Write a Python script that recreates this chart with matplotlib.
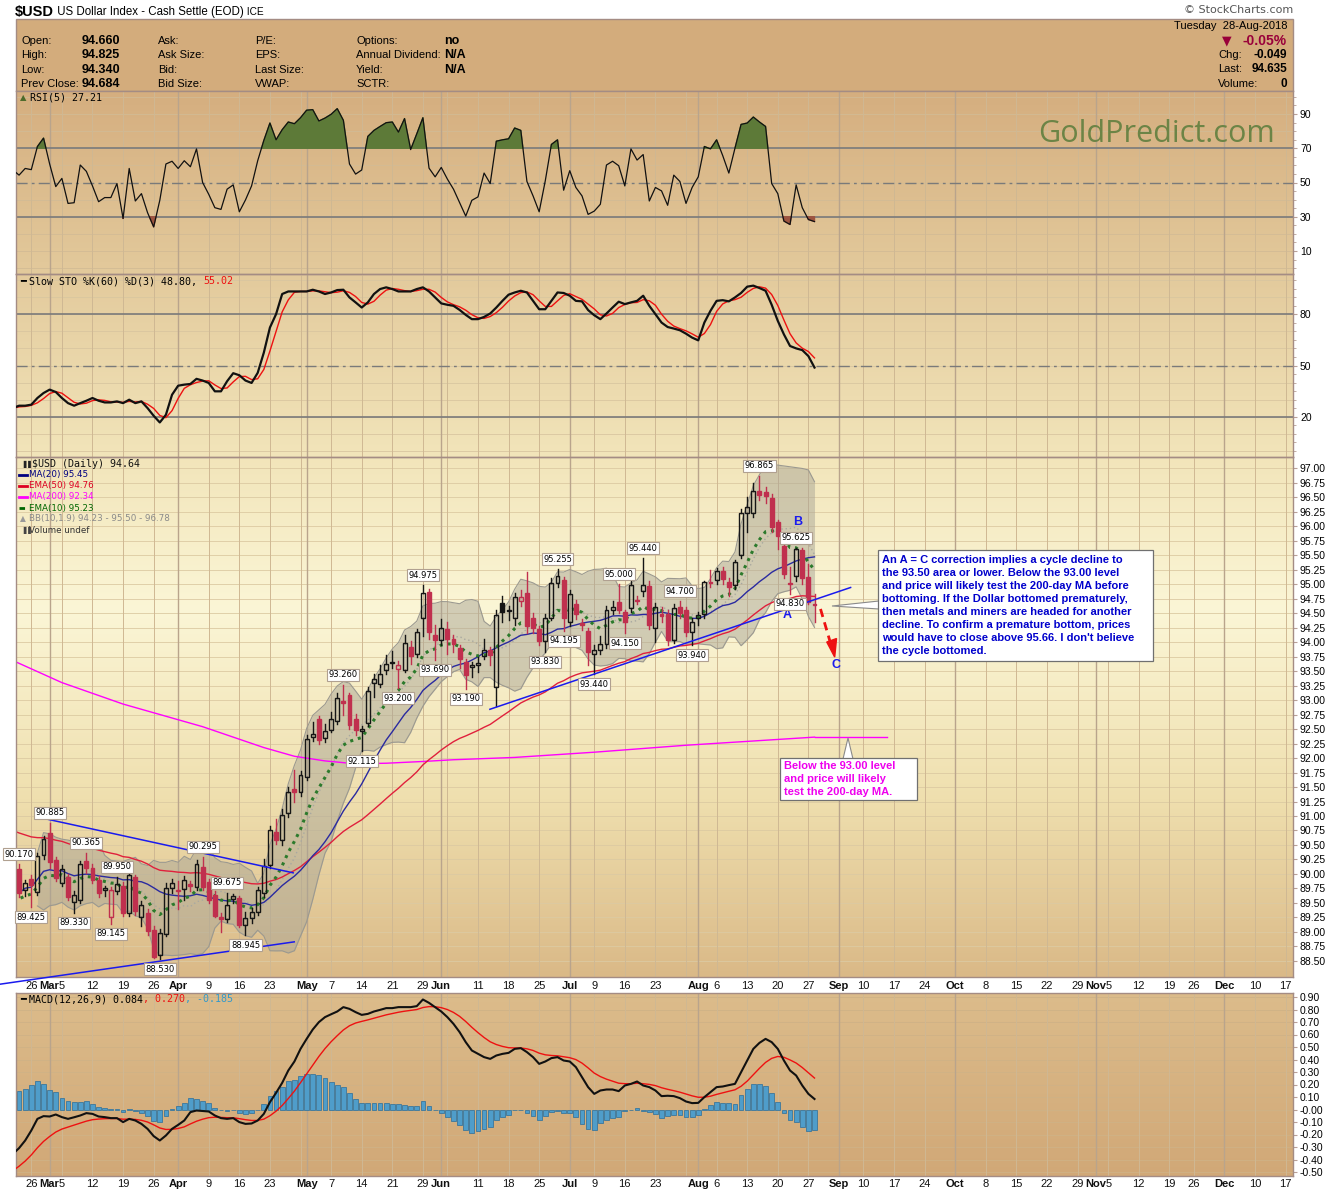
import numpy as np
import pandas as pd
import matplotlib
matplotlib.use('Agg')
import matplotlib.pyplot as plt
from matplotlib.patches import Rectangle, Polygon
from matplotlib.colors import to_rgb
import matplotlib.transforms as mtransforms

plt.rcParams['font.family'] = ['Liberation Sans', 'DejaVu Sans']

# ---------------- data ----------------
holidays = ['2018-03-30', '2018-05-28', '2018-07-04', '2018-09-03', '2018-11-22', '2018-12-25']
first_day = '2018-02-21'
last_day = '2018-12-31'

# daily OHLC, 22-Feb-2018 .. 28-Aug-2018
open_ = [90.08, 89.73, 89.91, 89.69, 90.33, 90.70, 90.24, 89.85, 89.94, 89.51,
         89.55, 90.23, 90.10, 89.90, 89.72, 89.26, 89.71, 89.79, 89.33, 89.95,
         89.26, 89.33, 89.03, 88.60, 88.97, 89.75, 89.73, 89.74, 89.82, 89.77,
         90.12, 89.87, 89.64, 89.26, 89.22, 89.57, 89.58, 89.12, 89.24, 89.35,
         89.67, 90.16, 90.73, 90.59, 91.05, 91.46, 91.41, 91.68, 92.37, 92.67,
         92.34, 92.49, 92.63, 92.98, 93.09, 92.68, 92.46, 92.60, 93.30, 93.28,
         93.52, 93.65, 93.53, 93.52, 93.91, 93.80, 94.41, 94.86, 94.12, 94.03,
         94.22, 94.05, 93.89, 93.66, 93.57, 93.60, 93.76, 93.86, 93.23, 94.67,
         94.55, 94.41, 94.70, 94.85, 94.41, 94.22, 94.01, 94.42, 95.01, 95.07,
         94.35, 94.65, 94.32, 94.19, 93.80, 93.87, 93.96, 94.55, 94.69, 94.52,
         94.59, 94.73, 94.88, 94.97, 94.25, 94.49, 94.48, 94.03, 94.61, 94.55,
         94.18, 94.41, 94.48, 95.04, 95.07, 95.22, 95.04, 94.99, 95.50, 96.22,
         96.22, 96.60, 96.59, 96.49, 96.07, 95.66, 95.02, 95.13, 95.59, 95.12,
         94.660]
high_ = [90.17, 89.90, 89.98, 90.36, 90.66, 90.885, 90.30, 90.16, 90.00, 89.70,
         90.22, 90.365, 90.18, 89.97, 89.80, 89.78, 89.95, 89.86, 90.02, 89.99,
         89.53, 89.40, 89.10, 89.05, 89.84, 89.92, 89.88, 89.97, 89.88, 90.24,
         90.295, 89.92, 89.70, 89.32, 89.675, 89.66, 89.62, 89.35, 89.42, 89.78,
         90.25, 90.82, 90.95, 91.12, 91.50, 91.80, 91.78, 92.40, 92.62, 92.72,
         92.58, 92.80, 93.12, 93.26, 93.12, 92.76, 92.56, 93.22, 93.45, 93.60,
         93.78, 93.85, 93.68, 94.12, 94.02, 94.22, 94.975, 94.92, 94.30, 94.40,
         94.35, 94.12, 93.95, 93.70, 93.66, 93.75, 94.05, 93.92, 94.55, 94.80,
         94.62, 94.85, 94.90, 95.20, 94.50, 94.28, 94.48, 95.10, 95.255, 95.12,
         94.90, 94.72, 94.40, 94.25, 93.95, 94.10, 94.62, 94.70, 95.00, 94.56,
         95.05, 94.80, 95.44, 95.05, 94.68, 94.60, 94.55, 94.65, 94.70, 94.60,
         94.42, 94.52, 95.05, 95.24, 95.27, 95.30, 95.10, 95.42, 96.30, 96.50,
         96.75, 96.865, 96.68, 96.55, 96.10, 95.70, 95.30, 95.625, 95.62, 95.35,
         94.825]
low_ = [89.60, 89.62, 89.425, 89.64, 90.25, 90.10, 89.88, 89.80, 89.55, 89.33,
        89.50, 90.02, 89.85, 89.60, 89.62, 89.145, 89.65, 89.28, 89.28, 89.30,
        89.10, 88.95, 88.55, 88.53, 88.93, 89.68, 89.40, 89.55, 89.70, 89.72,
        89.72, 89.50, 89.25, 89.00, 89.18, 89.50, 89.08, 88.945, 89.15, 89.30,
        89.60, 90.10, 90.52, 90.50, 90.98, 91.25, 91.35, 91.62, 92.30, 92.25,
        92.28, 92.44, 92.58, 92.75, 92.50, 92.40, 92.115, 92.55, 93.05, 93.22,
        93.45, 93.55, 93.20, 93.48, 93.62, 93.75, 94.10, 94.05, 93.69, 93.95,
        93.80, 93.82, 93.55, 93.19, 93.40, 93.48, 93.70, 93.60, 92.89, 94.35,
        94.38, 94.30, 94.62, 94.15, 94.15, 93.95, 93.83, 94.38, 94.95, 94.195,
        94.28, 94.40, 94.20, 93.60, 93.44, 93.80, 93.90, 94.48, 94.50, 94.15,
        94.52, 94.65, 94.80, 94.22, 94.00, 94.35, 93.95, 93.98, 94.42, 94.10,
        93.94, 94.30, 94.42, 94.95, 95.00, 95.00, 94.80, 94.92, 95.45, 95.90,
        96.15, 96.45, 96.40, 95.90, 95.60, 95.10, 94.83, 95.05, 95.00, 94.65,
        94.340]
close_ = [89.67, 89.84, 89.81, 90.31, 90.60, 90.21, 89.93, 90.08, 89.61, 89.63,
          90.18, 90.10, 89.90, 89.67, 89.76, 89.72, 89.82, 89.33, 89.98, 89.37,
          89.47, 89.01, 88.57, 88.98, 89.76, 89.84, 89.70, 89.90, 89.79, 90.18,
          89.77, 89.55, 89.28, 89.23, 89.47, 89.62, 89.12, 89.24, 89.35, 89.72,
          90.13, 90.76, 90.59, 91.02, 91.42, 91.41, 91.71, 92.32, 92.41, 92.31,
          92.47, 92.67, 93.03, 92.95, 92.57, 92.48, 92.50, 93.16, 93.36, 93.44,
          93.62, 93.64, 93.60, 93.98, 93.76, 94.18, 94.84, 94.18, 94.03, 94.24,
          94.05, 93.97, 93.71, 93.43, 93.60, 93.63, 93.87, 93.78, 94.47, 94.52,
          94.53, 94.78, 94.77, 94.28, 94.24, 94.01, 94.42, 95.01, 95.14, 94.41,
          94.82, 94.48, 94.30, 93.82, 93.86, 93.96, 94.55, 94.61, 94.55, 94.35,
          94.99, 94.71, 94.99, 94.29, 94.61, 94.44, 94.03, 94.59, 94.50, 94.18,
          94.35, 94.47, 95.03, 95.01, 95.22, 95.09, 94.94, 95.38, 96.22, 96.33,
          96.60, 96.53, 96.52, 95.99, 95.82, 95.18, 95.00, 95.60, 95.11, 94.684,
          94.635]

# indicator readings, 21-Feb-2018 .. 28-Aug-2018
rsi5 = [57.3, 54.3, 58.2, 57.5, 71.0, 75.9, 60.8, 47.6, 52.4, 37.8,
        38.2, 60.2, 56.5, 48.0, 38.8, 41.2, 41.2, 49.4, 29.0, 58.2,
        39.2, 43.5, 32.4, 24.1, 39.6, 60.8, 62.4, 58.2, 62.7, 59.2,
        69.6, 50.0, 43.1, 35.3, 34.3, 46.1, 48.6, 32.9, 39.8, 48.0,
        62.7, 74.5, 84.7, 74.9, 80.8, 85.3, 84.3, 87.8, 92.2, 92.5,
        85.9, 87.6, 89.8, 93.1, 86.3, 60.8, 54.9, 57.3, 76.9, 80.4,
        82.7, 84.9, 85.3, 79.4, 87.3, 69.2, 78.4, 87.8, 58.4, 53.3,
        58.8, 52.0, 46.1, 38.2, 30.4, 39.6, 41.6, 55.5, 49.4, 74.1,
        74.9, 75.5, 81.8, 80.4, 50.6, 42.2, 32.9, 51.0, 72.2, 74.9,
        45.5, 56.9, 47.1, 42.2, 31.4, 33.3, 37.3, 60.2, 62.4, 59.8,
        48.0, 69.6, 63.1, 66.3, 39.2, 47.1, 45.1, 36.7, 54.3, 50.6,
        37.8, 47.1, 53.3, 71.0, 69.6, 74.9, 65.7, 55.5, 70.0, 83.9,
        84.7, 88.2, 85.3, 82.7, 49.4, 43.5, 27.5, 25.5, 48.6, 35.3,
        28.4, 27.21]
sto_k = [25.1, 26.5, 26.5, 27.1, 31.0, 33.9, 35.9, 34.5, 31.0, 28.0,
         26.5, 28.0, 29.4, 31.0, 29.4, 28.4, 28.4, 29.0, 28.0, 30.0,
         28.0, 29.0, 25.1, 20.6, 16.7, 21.2, 32.9, 38.2, 38.8, 39.2,
         42.2, 41.2, 39.8, 34.9, 34.9, 40.8, 45.5, 44.3, 41.2, 39.8,
         45.7, 57.5, 72.2, 80.0, 91.8, 93.3, 93.3, 93.3, 93.3, 94.3,
         93.3, 91.8, 92.7, 94.1, 94.3, 89.8, 86.9, 83.9, 86.9, 91.8,
         94.7, 95.7, 94.7, 93.3, 93.3, 93.3, 94.7, 95.7, 93.3, 89.8,
         86.3, 85.5, 84.9, 82.5, 79.6, 77.1, 77.1, 78.4, 80.4, 83.9,
         87.8, 91.4, 92.7, 93.7, 92.7, 87.8, 82.9, 82.9, 87.8, 92.7,
         92.4, 90.8, 87.8, 87.5, 82.4, 79.4, 77.1, 80.4, 83.9, 87.3,
         85.9, 86.9, 87.8, 90.8, 84.9, 80.0, 75.1, 72.5, 71.6, 70.6,
         68.6, 66.3, 64.7, 75.1, 82.0, 87.8, 88.2, 87.5, 89.8, 92.4,
         96.1, 96.7, 95.3, 93.7, 85.5, 76.1, 68.2, 61.4, 60.0, 59.0,
         55.5, 48.80]
macd_line = [-0.355, -0.309, -0.248, -0.168, -0.075, -0.053, -0.056, -0.040, -0.061, -0.075,
             -0.062, -0.048, -0.029, -0.035, -0.056, -0.061, -0.069, -0.069, -0.101, -0.075,
             -0.088, -0.115, -0.155, -0.213, -0.248, -0.208, -0.155, -0.123, -0.088, -0.021,
             -0.008, -0.012, -0.016, -0.048, -0.069, -0.075, -0.069, -0.101, -0.115, -0.112,
             -0.088, -0.035, 0.059, 0.133, 0.213, 0.312, 0.384, 0.485, 0.565, 0.640,
             0.699, 0.739, 0.762, 0.784, 0.819, 0.805, 0.779, 0.757, 0.765, 0.784,
             0.797, 0.811, 0.811, 0.819, 0.819, 0.819, 0.827, 0.880, 0.853, 0.819,
             0.784, 0.739, 0.685, 0.619, 0.539, 0.472, 0.445, 0.419, 0.405, 0.432,
             0.445, 0.453, 0.485, 0.491, 0.459, 0.419, 0.365, 0.384, 0.411, 0.419,
             0.392, 0.384, 0.339, 0.259, 0.179, 0.125, 0.152, 0.160, 0.160, 0.147,
             0.192, 0.205, 0.224, 0.192, 0.179, 0.152, 0.107, 0.110, 0.107, 0.091,
             0.064, 0.051, 0.053, 0.099, 0.139, 0.179, 0.184, 0.195, 0.205, 0.299,
             0.392, 0.485, 0.533, 0.565, 0.539, 0.485, 0.392, 0.312, 0.272, 0.192,
             0.125, 0.084]
macd_signal_start = -0.49
ema10_start = 89.55
ema50_start = 90.75

ma200_dates = ['2018-02-21', '2018-03-05', '2018-03-19', '2018-04-06', '2018-04-20', '2018-04-27',
               '2018-05-04', '2018-05-11', '2018-05-18', '2018-05-29', '2018-06-05', '2018-06-19',
               '2018-07-09', '2018-07-30', '2018-08-28']
ma200_vals = [93.68, 93.30, 92.93, 92.54, 92.18, 92.03, 91.95, 91.90, 91.91, 91.94, 91.97, 92.01,
              92.10, 92.22, 92.36]

high_label_days = [0, 5, 11, 16, 30, 34, 53, 66, 88, 98, 102, 108, 121, 127]
low_label_days = [2, 9, 15, 23, 37, 56, 62, 68, 73, 86, 89, 94, 99, 110, 126]

label_dates = ['2018-02-26', '2018-03-01', '2018-03-05', '2018-03-12', '2018-03-19', '2018-03-26',
               '2018-04-02', '2018-04-09', '2018-04-16', '2018-04-23', '2018-05-01', '2018-05-07',
               '2018-05-14', '2018-05-21', '2018-05-29', '2018-06-01', '2018-06-11', '2018-06-18',
               '2018-06-25', '2018-07-02', '2018-07-09', '2018-07-16', '2018-07-23', '2018-08-01',
               '2018-08-06', '2018-08-13', '2018-08-20', '2018-08-27', '2018-09-04', '2018-09-10',
               '2018-09-17', '2018-09-24', '2018-10-01', '2018-10-08', '2018-10-15', '2018-10-22',
               '2018-10-29', '2018-11-01', '2018-11-05', '2018-11-12', '2018-11-19', '2018-11-26',
               '2018-12-03', '2018-12-10', '2018-12-17']
label_texts = ['26', 'Mar', '5', '12', '19', '26', 'Apr', '9', '16', '23', 'May', '7', '14', '21', '29',
               'Jun', '11', '18', '25', 'Jul', '9', '16', '23', 'Aug', '6', '13', '20', '27', 'Sep',
               '10', '17', '24', 'Oct', '8', '15', '22', '29', 'Nov', '5', '12', '19', '26', 'Dec',
               '10', '17']
label_bold = [t.isalpha() for t in label_texts]

note_text = ["An A = C correction implies a cycle decline to",
             "the 93.50 area or lower. Below the 93.00 level",
             "and price will likely test the 200-day MA before",
             "bottoming. If the Dollar bottomed prematurely,",
             "then metals and miners are headed for another",
             "decline. To confirm a premature bottom, prices",
             "would have to close above 95.66. I don't believe",
             "the cycle bottomed."]
note2_text = ["Below the 93.00 level", "and price will likely", "test the 200-day MA."]

# ---------------- helpers ----------------
W, H = 1340, 1192
fig = plt.figure(figsize=(W / 100, H / 100), dpi=100)
fig.patch.set_facecolor('white')
rend = fig.canvas.get_renderer()

days = pd.bdate_range(first_day, last_day)
days = days[~days.isin(pd.to_datetime(holidays))]
idx = {d.strftime('%Y-%m-%d'): i for i, d in enumerate(days)}

L, R = 16, 1293
X0 = 0.5
X1 = 209.2
SP = '#a48c84'
RED = '#c0304e'
BLK = '#151515'
DV = 'DejaVu Sans'
MONO = 'DejaVu Sans Mono'


def T(x, y, s, **kw):
    kw.setdefault('va', 'center')
    return fig.text(x / W, 1 - y / H, s, **kw)


def seq(x, y, parts):
    for s, kw in parts:
        t = T(x, y, s, ha='left', **kw)
        x += t.get_window_extent(rend).width


def add_ax(top, bottom):
    return fig.add_axes([L / W, 1 - bottom / H, (R - L) / W, (bottom - top) / H])


def grad_bg(top, bottom, stops):
    bg = fig.add_axes([L / W, 1 - bottom / H, (R - L) / W, (bottom - top) / H], zorder=-5)
    bg.axis('off')
    ys = np.linspace(top, bottom, 400)
    cols = np.array([to_rgb(c) for _, c in stops])
    py = [p for p, _ in stops]
    img = np.stack([np.interp(ys, py, cols[:, k]) for k in range(3)], axis=1)
    bg.imshow(img[:, None, :], aspect='auto', extent=(0, 1, 0, 1))
    bg.set_xlim(0, 1)
    bg.set_ylim(0, 1)


# backgrounds
grad_bg(91, 977, [(91, '#d5ae7f'), (274, '#e3ca9c'), (457, '#f2e5ba'), (610, '#fbf6d6'),
                  (800, '#efdfae'), (977, '#dab987')])
grad_bg(993, 1176, [(993, '#dcbc8b'), (1176, '#d1a877')])

# header box
fig.add_artist(Rectangle((L / W, 1 - 91 / H), (R - L) / W, (91 - 19) / H, transform=fig.transFigure,
                         facecolor='#d3ac7c', edgecolor=SP, lw=1, zorder=-6))

ax_rsi = add_ax(91, 274)
ax_sto = add_ax(274, 457)
ax_p = add_ax(457, 977)
ax_m = add_ax(993, 1176)
axes = [ax_rsi, ax_sto, ax_p, ax_m]

label_x = [idx[d] for d in label_dates]
week_starts = [i for i in range(1, len(days)) if days[i].isocalendar()[1] != days[i - 1].isocalendar()[1]]
month_starts = [i for i in range(1, len(days)) if days[i].month != days[i - 1].month]

for ax in axes:
    ax.set_facecolor('none')
    ax.set_xlim(X0, X1)
    for s in ax.spines.values():
        s.set_color(SP)
        s.set_linewidth(1)
    ax.set_xticks([])
    ax.yaxis.tick_right()
    ax.tick_params(axis='y', which='both', length=3, color='#b8a098', labelsize=7.5, pad=2)
    for i in week_starts:
        ax.axvline(i, color='#cfb893', lw=0.7, zorder=0.5)
    for i in month_starts:
        ax.axvline(i, color='#b9a48c', lw=1.0, zorder=0.6)

# ---------------- RSI ----------------
x_ind = np.arange(len(rsi5))
rsi = np.array(rsi5)
ax_rsi.set_ylim(-3.4, 103.4)
for v in range(0, 101, 10):
    ax_rsi.axhline(v, color='#d2bb95', lw=0.6, zorder=0.4)
ax_rsi.axhline(70, color='#7a7a7a', lw=1.2, zorder=1)
ax_rsi.axhline(30, color='#7a7a7a', lw=1.2, zorder=1)
ax_rsi.axhline(50, color='#7a7a7a', lw=1.0, ls=(0, (8, 3, 2, 3)), zorder=1)
ax_rsi.fill_between(x_ind, 70, rsi, where=rsi >= 70, interpolate=True, color='#5d7a38', zorder=2)
ax_rsi.fill_between(x_ind, 30, rsi, where=rsi <= 30, interpolate=True, color='#9d5440', zorder=2)
ax_rsi.plot(x_ind, rsi, color='#111111', lw=0.9, zorder=3)
ax_rsi.set_yticks([10, 30, 50, 70, 90])
ax_rsi.set_yticklabels(['10', '30', '50', '70', '90'])
ax_rsi.set_yticks(np.arange(0, 101, 5), minor=True)
ax_rsi.tick_params(axis='y', which='minor', length=2, labelright=False)

# ---------------- STO ----------------
k = pd.Series(sto_k)
d_line = k.rolling(3, min_periods=1).mean()
ax_sto.set_ylim(-3.5, 103.5)
for v in range(0, 101, 10):
    ax_sto.axhline(v, color='#d9c6a0', lw=0.6, zorder=0.4)
ax_sto.axhline(80, color='#7a7a7a', lw=1.2, zorder=1)
ax_sto.axhline(20, color='#7a7a7a', lw=1.2, zorder=1)
ax_sto.axhline(50, color='#7a7a7a', lw=1.0, ls=(0, (8, 3, 2, 3)), zorder=1)
ax_sto.plot(x_ind, d_line, color='#ee1111', lw=1.0, zorder=3)
ax_sto.plot(x_ind, k, color='#111111', lw=1.6, zorder=4)
ax_sto.set_yticks([20, 50, 80])
ax_sto.set_yticklabels(['20', '50', '80'])
ax_sto.set_yticks(np.arange(0, 101, 5), minor=True)
ax_sto.tick_params(axis='y', which='minor', length=2, labelright=False)

# ---------------- price ----------------
closes = pd.Series(close_)
x_c = np.arange(1, len(close_) + 1)
ma20 = closes.rolling(20, min_periods=1).mean()
ma10 = closes.rolling(10, min_periods=4).mean()
sd10 = closes.rolling(10, min_periods=4).std(ddof=0)
bb_up = ma10 + 1.9 * sd10
bb_dn = ma10 - 1.9 * sd10


def ema_from(seed, vals, n):
    a = 2.0 / (n + 1)
    out = [seed]
    for v in vals:
        out.append(out[-1] + a * (v - out[-1]))
    return np.array(out)


ema10 = ema_from(ema10_start, close_, 10)
ema50 = ema_from(ema50_start, close_, 50)

ax_p.set_ylim(88.224, 97.19)
pt = np.arange(88.5, 97.001, 0.25)
for v in pt:
    ax_p.axhline(v, color='#dccaa2', lw=0.6, zorder=0.4)
ax_p.set_yticks(pt)
ax_p.set_yticklabels([f'{v:.2f}' for v in pt])

ax_p.fill_between(x_c, bb_dn, bb_up, color='#a9a596', alpha=0.5, lw=0, zorder=1)
ax_p.plot(x_c, bb_up, color='#9b9990', lw=0.8, zorder=1.1)
ax_p.plot(x_c, bb_dn, color='#9b9990', lw=0.8, zorder=1.1)
ax_p.plot(x_c, ma10, color='#a8a8a0', lw=1.0, ls=(0, (1, 2)), zorder=1.2)
ma200_x = [idx[d] for d in ma200_dates]
ax_p.plot(ma200_x, ma200_vals, color='#ff00ff', lw=1.0, zorder=2)
ax_p.plot([ma200_x[-1], 142.8], [ma200_vals[-1], ma200_vals[-1]], color='#ff00ff', lw=1.0, zorder=2)
ax_p.plot(np.arange(len(ema50)), ema50, color='#e0203c', lw=1.0, zorder=2)
ax_p.plot(x_c, ma20, color='#2a2aa0', lw=1.0, zorder=2)
ax_p.plot(np.arange(len(ema10)), ema10, color='#2c7a2c', lw=2.2, ls=(0, (1, 1.6)), zorder=2.5)

bw = 0.64
for n in range(len(close_)):
    i = n + 1
    o, h, l, c = open_[n], high_[n], low_[n], close_[n]
    pc = close_[n - 1] if n > 0 else o
    col = BLK if c >= pc else RED
    top, bot = max(o, c), min(o, c)
    ax_p.plot([i, i], [top, h], color=col, lw=1, zorder=4)
    ax_p.plot([i, i], [l, bot], color=col, lw=1, zorder=4)
    hgt = max(top - bot, 0.012)
    ax_p.add_patch(Rectangle((i - bw / 2, bot), bw, hgt, facecolor=col if c < o else 'none',
                             edgecolor=col, lw=1, zorder=5))

lab_box = dict(boxstyle='square,pad=0.18', fc='white', ec='#b0a090', lw=0.8)
for n in high_label_days:
    ax_p.annotate(f'{high_[n]:.3f}', (n + 1, high_[n]), xytext=(0, 10), textcoords='offset pixels',
                  ha='center', va='center', fontsize=6, family=DV, bbox=lab_box,
                  zorder=8, annotation_clip=False)
for n in low_label_days:
    ax_p.annotate(f'{low_[n]:.3f}', (n + 1, low_[n]), xytext=(0, -10), textcoords='offset pixels',
                  ha='center', va='center', fontsize=6, family=DV, bbox=lab_box,
                  zorder=8, annotation_clip=False)

# drawn trend lines (annotations)
ax_p.plot([4.96, 45.8], [90.96, 90.02], color='#1a1aee', lw=1.1, zorder=6)
ax_p.plot([-2.11, 45.97], [88.10, 88.83], color='#1a1aee', lw=1.1, zorder=6, clip_on=False)
ax_p.plot([77.95, 136.9], [92.84, 94.94], color='#1a1aee', lw=1.1, zorder=6)
ax_p.plot([131.98, 133.7], [94.57, 93.95], color='#ee1111', lw=2, ls=(0, (3, 2)), zorder=6)
ax_p.add_patch(Polygon([[134.3, 93.74], [133.0, 94.0], [134.6, 94.06]], closed=True,
                       color='#ee1111', zorder=6))
ax_p.text(128.3, 96.07, 'B', color='#1a1aee', fontsize=9, fontweight='bold', ha='center', va='center')
ax_p.text(126.5, 94.47, 'A', color='#1a1aee', fontsize=9, fontweight='bold', ha='center', va='center')
ax_p.text(134.5, 93.60, 'C', color='#1a1aee', fontsize=9, fontweight='bold', ha='center', va='center')

# ---------------- MACD ----------------
m = np.array(macd_line)
sig = [macd_signal_start]
for v in m[1:]:
    sig.append(sig[-1] + 0.2 * (v - sig[-1]))
sig = np.array(sig)
hist = m - sig
ax_m.set_ylim(-0.532, 0.932)
mt = np.round(np.arange(-0.5, 0.901, 0.1), 2)
for v in mt:
    ax_m.axhline(v, color='#cfb286', lw=0.6, zorder=0.4)
ax_m.bar(x_ind, hist, width=0.78, color='#4f9dca', edgecolor='#2b6d99', lw=0.5, zorder=2)
ax_m.plot(x_ind, sig, color='#ee1111', lw=1.0, zorder=3)
ax_m.plot(x_ind, m, color='#111111', lw=1.5, zorder=4)
ax_m.set_yticks(mt)
ax_m.set_yticklabels([f'{v:.2f}' for v in mt])

# ---------------- date strips ----------------
tr = mtransforms.blended_transform_factory(ax_p.transData, fig.transFigure)
for xi, t, b in zip(label_x, label_texts, label_bold):
    for yy in (986, 1184):
        fig.text(xi, 1 - yy / H, t, transform=tr, ha='center', va='center', fontsize=8,
                 fontweight='bold' if b else 'normal', color='#111111')

# ---------------- header texts ----------------
seq(15, 12, [('$USD', dict(fontsize=10.5, fontweight='bold')),
             (' US Dollar Index - Cash Settle (EOD)', dict(fontsize=8.3)),
             (' ICE', dict(fontsize=7.3))])
T(1293, 10, '\u00a9 StockCharts.com', ha='right', fontsize=8, color='#555555', family=DV)

rows = [41, 55, 70, 84]
c1 = ['Open:', 'High:', 'Low:', 'Prev Close:']
v1 = ['94.660', '94.825', '94.340', '94.684']
c2 = ['Ask:', 'Ask Size:', 'Bid:', 'Bid Size:']
c3 = ['P/E:', 'EPS:', 'Last Size:', 'VWAP:']
c4 = ['Options:', 'Annual Dividend:', 'Yield:', 'SCTR:']
v4 = ['no', 'N/A', 'N/A', '']
bold_fam = ['Liberation Sans Narrow', 'Liberation Sans', 'DejaVu Sans']
for y, a, va_, b, c, d, vd in zip(rows, c1, v1, c2, c3, c4, v4):
    T(21, y, a, fontsize=8)
    T(120, y, va_, ha='right', fontsize=9, fontweight='bold', family=bold_fam)
    T(158, y, b, fontsize=8)
    T(255, y, c, fontsize=8)
    T(356, y, d, fontsize=8)
    T(444, y, vd, fontsize=9, fontweight='bold', family=bold_fam)
T(1287, 26, 'Tuesday  28-Aug-2018', ha='right', fontsize=8)
T(1227, 41, '\u25bc', ha='center', fontsize=9, color='#99003a', family=DV)
T(1287, 41, '-0.05%', ha='right', fontsize=10, color='#99003a', fontweight='bold')
T(1218, 55, 'Chg:', fontsize=8)
T(1287, 55, '-0.049', ha='right', fontsize=8.5, fontweight='bold')
T(1218, 69, 'Last:', fontsize=8)
T(1287, 69, '94.635', ha='right', fontsize=8.5, fontweight='bold')
T(1218, 84, 'Volume:', fontsize=8)
T(1287, 84, '0', ha='right', fontsize=8.5, fontweight='bold')

T(1157, 134, 'GoldPredict.com', ha='center', fontsize=22, color='#6c8446', family=['Open Sans', 'DejaVu Sans'])

# panel labels
T(20, 98, '\u25b2', fontsize=6, color='#4d6a2a', family=DV)
T(30, 98, 'RSI(5) 27.21', fontsize=7.2, family=MONO)
seq(20, 281, [('\u2501 ', dict(fontsize=7, family=DV)),
              ('Slow STO %K(60) %D(3) 48.80, ', dict(fontsize=7.2, family=MONO)),
              ('55.02', dict(fontsize=7.2, family=MONO, color='#ee1111'))])
seq(20, 999, [('\u2501 ', dict(fontsize=7, family=DV)),
              ('MACD(12,26,9) 0.084', dict(fontsize=7.2, family=MONO)),
              (', 0.270', dict(fontsize=7.2, family=MONO, color='#ee1111')),
              (', -0.185', dict(fontsize=7.2, family=MONO, color='#3399cc'))])

legend = [('$USD (Daily) 94.64', '#111111', 7.2, None, MONO),
          ('MA(20) 95.45', '#000080', 6.3, '-', DV),
          ('EMA(50) 94.76', '#dd0022', 6.3, '-', DV),
          ('MA(200) 92.34', '#ff00ff', 6.3, '-', DV),
          ('EMA(10) 95.23', '#006600', 6.3, '--', DV),
          ('BB(10,1.9) 94.23 - 95.50 - 96.78', '#8a8a8a', 6.3, None, DV),
          ('Volume undef', '#333333', 6.3, None, DV)]
for j, (s, c, fs, dash, fam) in enumerate(legend):
    y = 464 + j * 11
    x = 32 if j == 0 else 29
    T(x, y, s, fontsize=fs, color=c, family=fam)
    if dash == '-':
        fig.add_artist(plt.Line2D([19 / W, 27 / W], [1 - y / H] * 2, color=c, lw=2))
    elif dash == '--':
        fig.add_artist(plt.Line2D([19 / W, 27 / W], [1 - y / H] * 2, color=c, lw=2, ls=(0, (2, 2))))
T(20, 464, '\u2590\u2590', fontsize=5, color='#222222', family=DV)
T(20, 519, '\u25b2', fontsize=5.5, color='#999999', family=DV)
T(20, 530, '\u2590\u2590', fontsize=5, color='#444444', family=DV)

# ---------------- callout boxes ----------------
fig.add_artist(Polygon([[832 / W, 1 - 606 / H], [879 / W, 1 - 601 / H], [879 / W, 1 - 609 / H]],
                       closed=True, transform=fig.transFigure, facecolor='white', edgecolor='#8a8a8a',
                       lw=0.8, zorder=8))
fig.add_artist(Rectangle((878 / W, 1 - 661 / H), 275 / W, 111 / H, transform=fig.transFigure,
                         facecolor='white', edgecolor='#707070', lw=0.9, zorder=9))
for j, s in enumerate(note_text):
    T(882, 560 + j * 13, s, fontsize=8, fontweight='bold', color='#0000cc', zorder=10)

fig.add_artist(Polygon([[843 / W, 1 - 759 / H], [853 / W, 1 - 759 / H], [848 / W, 1 - 738 / H]],
                       closed=True, transform=fig.transFigure, facecolor='white', edgecolor='#8a8a8a',
                       lw=0.8, zorder=8))
fig.add_artist(Rectangle((780 / W, 1 - 800 / H), 137 / W, 42 / H, transform=fig.transFigure,
                         facecolor='white', edgecolor='#707070', lw=0.9, zorder=9))
for j, s in enumerate(note2_text):
    T(784, 766 + j * 13, s, fontsize=8, fontweight='bold', color='#ee00ee', zorder=10)

fig.savefig('out.png', dpi=100)
